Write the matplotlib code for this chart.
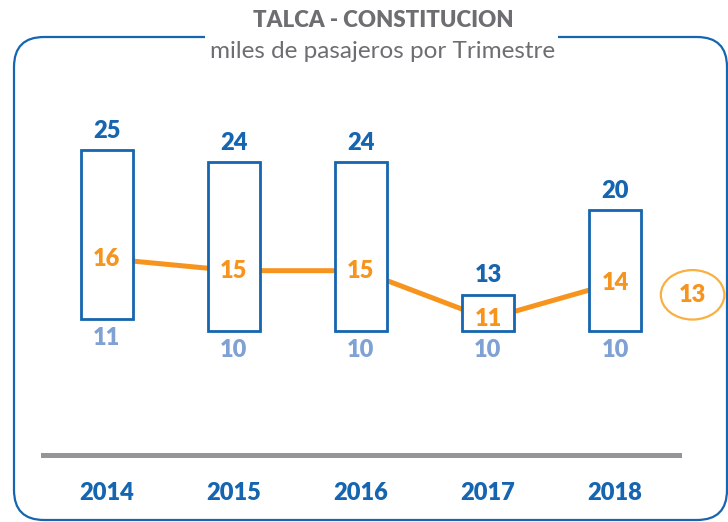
import matplotlib
matplotlib.use("Agg")
import matplotlib.pyplot as plt
from matplotlib.patches import Rectangle, FancyBboxPatch, Ellipse

# data (miles de pasajeros por trimestre)
years = ['2014', '2015', '2016', '2017', '2018']
maximo = [25, 24, 24, 13, 20]
promedio = [16, 15, 15, 11, 14]
minimo = [11, 10, 10, 10, 10]
promedio_total = 13

plt.rcParams['font.family'] = ['Lato', 'DejaVu Sans']

azul = '#1565b0'
azul_claro = '#7fa1d4'
naranja = '#f7941d'
gris = '#6d6e71'
fs = 17
peso = 'heavy'

fig = plt.figure(figsize=(7.28, 5.22), dpi=100)

# background frame (pixel coords)
bg = fig.add_axes([0, 0, 1, 1], zorder=0)
bg.set_xlim(0, 728)
bg.set_ylim(522, 0)
bg.axis('off')
bg.add_patch(FancyBboxPatch((14, 37), 713, 483, boxstyle='round,pad=0,rounding_size=30',
                            fc='none', ec=azul, lw=1.6))
bg.add_patch(Rectangle((205, 28), 353, 18, fc='white', ec='none', zorder=3))
fig.text(383.5 / 728, 1 - 20.5 / 522, 'TALCA - CONSTITUCION', ha='center', va='center',
         fontsize=16, fontweight=peso, color=gris)
fig.text(383 / 728, 1 - 52 / 522, 'miles de pasajeros por Trimestre', ha='center', va='center',
         fontsize=17.5, color=gris)

# chart axes
ax = fig.add_axes([43.1 / 728, 0.1278, (678.6 - 43.1) / 728, 0.631], zorder=1)
ax.set_facecolor('none')
ax.set_xlim(-0.5, 4.5)
ax.set_ylim(-0.3, 27)
x = list(range(len(years)))

ax.plot(x, promedio, color=naranja, lw=3.6, zorder=1, solid_capstyle='butt')

w = 0.41
for i in x:
    ax.add_patch(Rectangle((i - w / 2, minimo[i]), w, maximo[i] - minimo[i],
                           fc='white', ec=azul, lw=2, zorder=2))
    ax.annotate(str(maximo[i]), (i, maximo[i]), xytext=(0, 6), textcoords='offset points',
                ha='center', va='bottom', fontsize=fs, fontweight=peso, color=azul, zorder=3)
    ax.annotate(str(minimo[i]), (i, minimo[i]), xytext=(0, -6), textcoords='offset points',
                ha='center', va='top', fontsize=fs, fontweight=peso, color=azul_claro, zorder=3)
    ax.text(i, promedio[i], str(promedio[i]), ha='center', va='center',
            fontsize=fs, fontweight=peso, color=naranja, zorder=3)

ax.add_patch(Ellipse((4.61, promedio_total), 0.5, 4.1, fc='white', ec='#f9b040', lw=1.6,
                     clip_on=False, zorder=2))
ax.text(4.61, promedio_total, str(promedio_total), ha='center', va='center',
        fontsize=fs, fontweight=peso, color=naranja, zorder=3, clip_on=False)

for s in ['top', 'left', 'right']:
    ax.spines[s].set_visible(False)
ax.spines['bottom'].set_color('#939598')
ax.spines['bottom'].set_linewidth(3.6)
ax.set_yticks([])
ax.set_xticks(x)
ax.set_xticklabels(years, fontsize=fs, fontweight=peso, color=azul)
ax.tick_params(axis='x', length=0, pad=19)

fig.savefig('out.png', dpi=100)
